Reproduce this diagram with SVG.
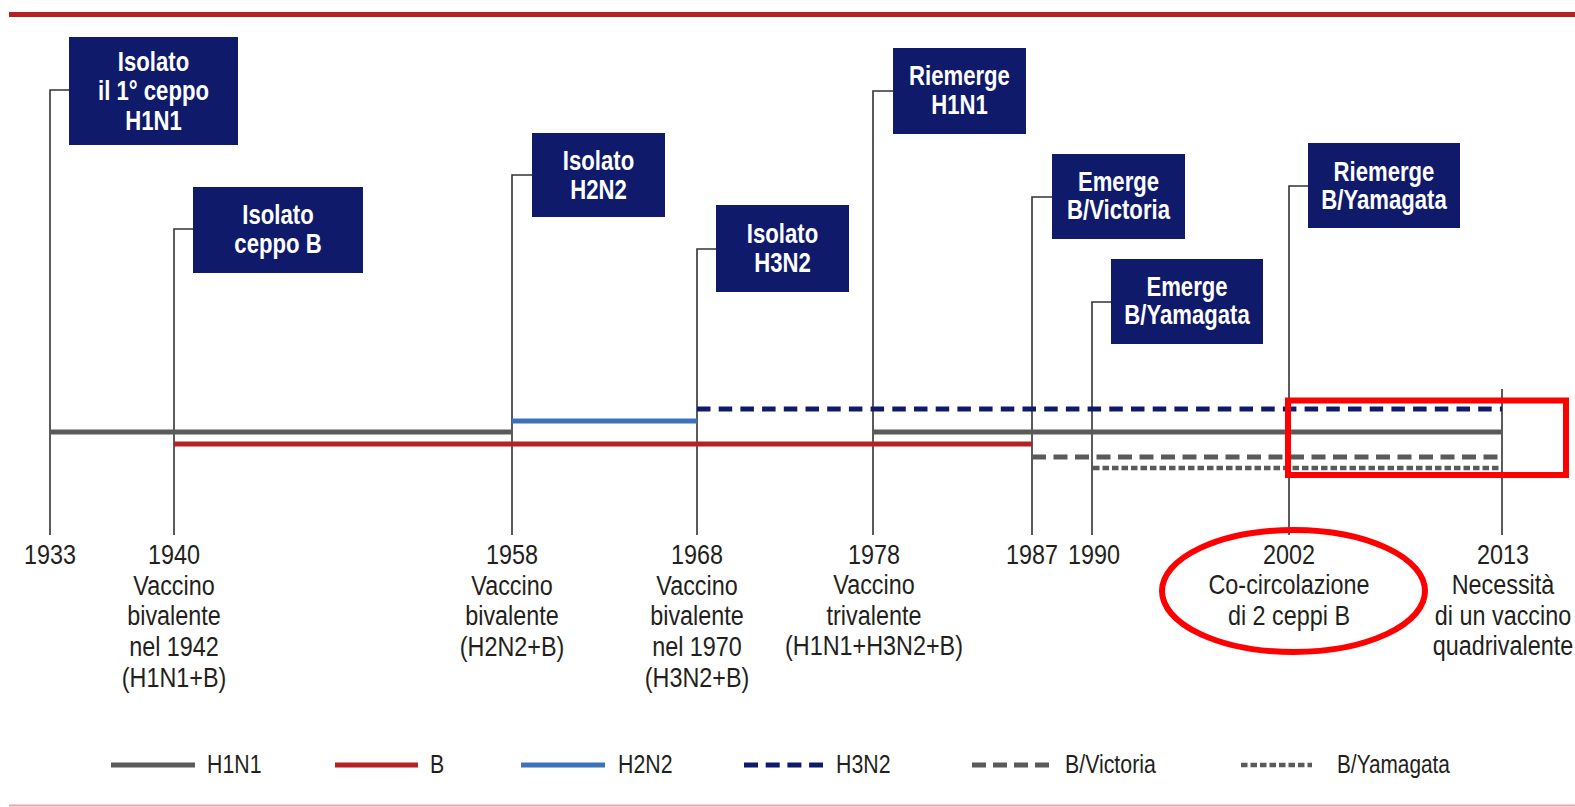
<svg xmlns="http://www.w3.org/2000/svg" width="1575" height="807" viewBox="0 0 1575 807">
<style>
.box{fill:#0f1a6b}
.bt{font-family:"Liberation Sans",Arial,sans-serif;font-weight:bold;font-size:27px;fill:#fff;text-anchor:middle}
.lt{font-family:"Liberation Sans",Arial,sans-serif;font-size:27.5px;fill:#231f20;text-anchor:middle}
.lg{font-family:"Liberation Sans",Arial,sans-serif;font-size:26px;fill:#231f20}
.conn{fill:none;stroke:#333;stroke-width:1.6}
.h1n1{stroke:#5a5a5a;stroke-width:5;fill:none}
.b{stroke:#b52025;stroke-width:5;fill:none}
.h2n2{stroke:#3b73b9;stroke-width:5;fill:none}
.h3n2{stroke:#0f1a6b;stroke-width:5;fill:none;stroke-dasharray:13.5 8.2}
.bvic{stroke:#5a5a5a;stroke-width:5;fill:none;stroke-dasharray:14 7.5}
.byam{stroke:#5a5a5a;stroke-width:4.5;fill:none;stroke-dasharray:6.5 3}
</style>
<line x1="9" y1="14.5" x2="1575" y2="14.5" stroke="#b52025" stroke-width="5"/>
<line x1="9" y1="805.5" x2="1575" y2="805.5" stroke="#eaa6a6" stroke-width="2"/>
<g id="connectors">
<path class="conn" d="M50,535V90H69"/>
<path class="conn" d="M174,535V229H193"/>
<path class="conn" d="M512,535V175H532"/>
<path class="conn" d="M697,535V249H716"/>
<path class="conn" d="M873,535V91H893"/>
<path class="conn" d="M1032,535V197H1052"/>
<path class="conn" d="M1092,535V302H1111"/>
<path class="conn" d="M1289,535V186H1308"/>
<path class="conn" d="M1502,535V389"/>
</g>
<g id="timelines">
<line class="h1n1" x1="50" y1="432" x2="512" y2="432"/>
<line class="h1n1" x1="873" y1="432" x2="1502" y2="432"/>
<line class="b" x1="174" y1="444" x2="1032" y2="444"/>
<line class="h2n2" x1="512" y1="421" x2="697" y2="421"/>
<line class="h3n2" x1="697" y1="409" x2="1502" y2="409"/>
<line class="bvic" x1="1032" y1="457" x2="1502" y2="457"/>
<line class="byam" x1="1093" y1="468" x2="1502" y2="468"/>
</g>
<g id="n1933"><rect class="box" x="69" y="37" width="169" height="108"/>
<text class="bt" transform="translate(153.5,71) scale(0.82,1)"><tspan x="0" dy="0">Isolato</tspan><tspan x="0" dy="29.5">il 1° ceppo</tspan><tspan x="0" dy="29.5">H1N1</tspan></text></g>
<g id="n1940"><rect class="box" x="193" y="187" width="170" height="86"/>
<text class="bt" transform="translate(278,224) scale(0.82,1)"><tspan x="0" dy="0">Isolato</tspan><tspan x="0" dy="29">ceppo B</tspan></text></g>
<g id="n1958"><rect class="box" x="532" y="133" width="133" height="84"/>
<text class="bt" transform="translate(598.5,170) scale(0.82,1)"><tspan x="0" dy="0">Isolato</tspan><tspan x="0" dy="29">H2N2</tspan></text></g>
<g id="n1968"><rect class="box" x="716" y="205" width="133" height="87"/>
<text class="bt" transform="translate(782.5,243) scale(0.82,1)"><tspan x="0" dy="0">Isolato</tspan><tspan x="0" dy="29.5">H3N2</tspan></text></g>
<g id="n1978"><rect class="box" x="893" y="48" width="133" height="86"/>
<text class="bt" transform="translate(959.5,85) scale(0.82,1)"><tspan x="0" dy="0">Riemerge</tspan><tspan x="0" dy="29">H1N1</tspan></text></g>
<g id="n1987"><rect class="box" x="1052" y="154" width="133" height="85"/>
<text class="bt" transform="translate(1118.5,191) scale(0.82,1)"><tspan x="0" dy="0">Emerge</tspan><tspan x="0" dy="28.5">B/Victoria</tspan></text></g>
<g id="n1990"><rect class="box" x="1111" y="259" width="152" height="85"/>
<text class="bt" transform="translate(1187,296) scale(0.82,1)"><tspan x="0" dy="0">Emerge</tspan><tspan x="0" dy="28.5">B/Yamagata</tspan></text></g>
<g id="n2002"><rect class="box" x="1308" y="143" width="152" height="85"/>
<text class="bt" transform="translate(1384,181) scale(0.82,1)"><tspan x="0" dy="0">Riemerge</tspan><tspan x="0" dy="28.5">B/Yamagata</tspan></text></g>
<g id="labels">
<text class="lt" transform="translate(50,564) scale(0.85,1)">1933</text>
<text class="lt" transform="translate(174,564) scale(0.85,1)"><tspan x="0" dy="0">1940</tspan><tspan x="0" dy="30.7">Vaccino</tspan><tspan x="0" dy="30.7">bivalente</tspan><tspan x="0" dy="30.7">nel 1942</tspan><tspan x="0" dy="30.7">(H1N1+B)</tspan></text>
<text class="lt" transform="translate(512,564) scale(0.85,1)"><tspan x="0" dy="0">1958</tspan><tspan x="0" dy="30.7">Vaccino</tspan><tspan x="0" dy="30.7">bivalente</tspan><tspan x="0" dy="30.7">(H2N2+B)</tspan></text>
<text class="lt" transform="translate(697,564) scale(0.85,1)"><tspan x="0" dy="0">1968</tspan><tspan x="0" dy="30.7">Vaccino</tspan><tspan x="0" dy="30.7">bivalente</tspan><tspan x="0" dy="30.7">nel 1970</tspan><tspan x="0" dy="30.7">(H3N2+B)</tspan></text>
<text class="lt" transform="translate(874,564) scale(0.85,1)"><tspan x="0" dy="0">1978</tspan><tspan x="0" dy="30.5">Vaccino</tspan><tspan x="0" dy="30.5">trivalente</tspan><tspan x="0" dy="30.5">(H1N1+H3N2+B)</tspan></text>
<text class="lt" transform="translate(1032,564) scale(0.85,1)">1987</text>
<text class="lt" transform="translate(1094,564) scale(0.85,1)">1990</text>
<text class="lt" transform="translate(1289,564) scale(0.85,1)"><tspan x="0" dy="0">2002</tspan><tspan x="0" dy="30.5">Co-circolazione</tspan><tspan x="0" dy="30.5">di 2 ceppi B</tspan></text>
<text class="lt" transform="translate(1503,564) scale(0.85,1)"><tspan x="0" dy="0">2013</tspan><tspan x="0" dy="30.5">Necessità</tspan><tspan x="0" dy="30.5">di un vaccino</tspan><tspan x="0" dy="30.5">quadrivalente</tspan></text>
</g>
<g id="highlights" fill="none" stroke="#ff0000" stroke-width="6">
<rect x="1288" y="400.5" width="278" height="74.5"/>
<ellipse cx="1293.5" cy="591" rx="131.5" ry="61"/>
</g>
<g id="legend">
<line class="h1n1" x1="111" y1="765" x2="195" y2="765"/>
<text class="lg" transform="translate(207,773) scale(0.82,1)">H1N1</text>
<line class="b" x1="335" y1="765" x2="418" y2="765"/>
<text class="lg" transform="translate(430,773) scale(0.82,1)">B</text>
<line class="h2n2" x1="521" y1="765" x2="605" y2="765"/>
<text class="lg" transform="translate(618,773) scale(0.82,1)">H2N2</text>
<line class="h3n2" x1="744" y1="765" x2="823" y2="765" style="stroke-dasharray:14 7.7"/>
<text class="lg" transform="translate(836,773) scale(0.82,1)">H3N2</text>
<line class="bvic" x1="972" y1="765" x2="1049" y2="765" style="stroke-dasharray:14 7"/>
<text class="lg" transform="translate(1065,773) scale(0.82,1)">B/Victoria</text>
<line class="byam" x1="1241" y1="765" x2="1312" y2="765"/>
<text class="lg" transform="translate(1337,773) scale(0.8,1)">B/Yamagata</text>
</g>
</svg>
